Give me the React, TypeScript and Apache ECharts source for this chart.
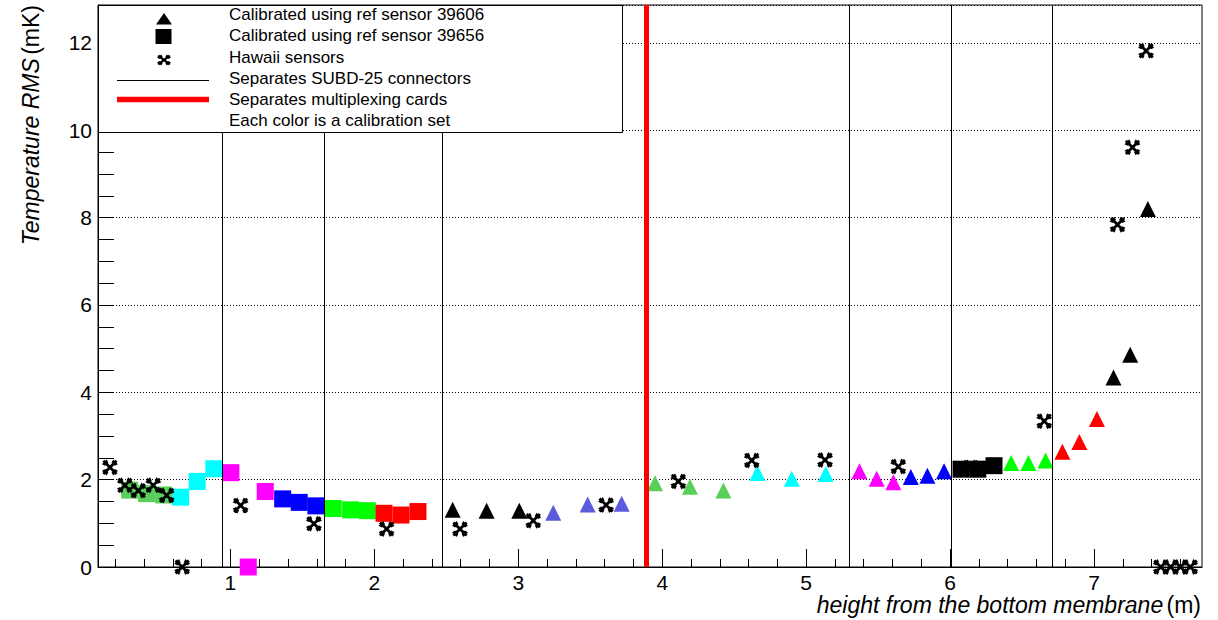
import React, { useEffect, useRef } from 'react';
import * as echarts from 'echarts';

// ---------- data (x = height in m, y = temperature RMS in mK) ----------
const hawaiiSensors: number[][] = [
  [0.163, 2.28], [0.267, 1.87], [0.36, 1.75], [0.464, 1.87], [0.557, 1.64],
  [0.665, 0.0], [1.071, 1.41], [1.58, 0.99], [2.085, 0.87], [2.595, 0.87],
  [3.104, 1.06], [3.61, 1.42], [4.112, 1.96], [4.622, 2.44], [5.131, 2.45],
  [5.64, 2.30], [6.654, 3.34], [7.163, 7.84], [7.267, 9.61], [7.362, 11.82],
  [7.464, 0.0], [7.532, 0.0], [7.60, 0.0], [7.668, 0.0],
];
const hawaiiBehindSquares: number[][] = [[6.144, 2.28]];

// squares: calibrated using ref sensor 39656
const sqGreenMid: number[][] = [[0.30, 1.76], [0.418, 1.68], [0.536, 1.65]];
const sqCyan: number[][] = [[0.654, 1.60], [0.769, 1.96], [0.885, 2.25]];
const sqMagenta: number[][] = [[1.003, 2.16], [1.124, 0.0], [1.242, 1.73]];
const sqBlue: number[][] = [[1.363, 1.56], [1.478, 1.48], [1.594, 1.40]];
const sqGreen: number[][] = [[1.714, 1.34], [1.835, 1.31], [1.951, 1.29]];
const sqRed: number[][] = [[2.067, 1.23], [2.185, 1.19], [2.303, 1.27]];
const sqBlack: number[][] = [[6.076, 2.24], [6.192, 2.24], [6.305, 2.32]];

// triangles: calibrated using ref sensor 39606
const triBlack: number[][] = [
  [2.544, 1.31], [2.78, 1.29], [3.007, 1.29], [7.135, 4.34], [7.251, 4.86], [7.374, 8.20],
];
const triViolet: number[][] = [[3.243, 1.24], [3.482, 1.43], [3.718, 1.45]];
const triGreenMid: number[][] = [[3.95, 1.92], [4.193, 1.84], [4.425, 1.75]];
const triCyan: number[][] = [[4.661, 2.15], [4.9, 2.02], [5.136, 2.13]];
const triMagenta: number[][] = [[5.37, 2.19], [5.49, 2.02], [5.606, 1.94]];
const triBlue: number[][] = [[5.727, 2.06], [5.842, 2.09], [5.958, 2.19]];
const triGreen: number[][] = [[6.424, 2.38], [6.544, 2.38], [6.663, 2.44]];
const triRed: number[][] = [[6.78, 2.64], [6.898, 2.86], [7.02, 3.39]];

// separators
const connectorSeparators = [0.943, 1.645, 2.472, 5.298, 6.007, 6.714];
const cardSeparators = [3.888];

// axes
const xMin = 0.08;
const xMax = 7.75;
const yMin = 0;
const yMax = 12.87;
const xMajorTicks = [1, 2, 3, 4, 5, 6, 7];
const xMinorTicks = [
  0.2, 0.4, 0.6, 0.8, 1.2, 1.4, 1.6, 1.8, 2.2, 2.4, 2.6, 2.8, 3.2, 3.4, 3.6, 3.8,
  4.2, 4.4, 4.6, 4.8, 5.2, 5.4, 5.6, 5.8, 6.2, 6.4, 6.6, 6.8, 7.2, 7.4, 7.6,
];
const yMinorTicks = [
  0.5, 1, 1.5, 2.5, 3, 3.5, 4.5, 5, 5.5, 6.5, 7, 7.5, 8.5, 9, 9.5, 10.5, 11, 11.5, 12.5,
];

const legendLabels = [
  'Calibrated using ref sensor 39606',
  'Calibrated using ref sensor 39656',
  'Hawaii sensors',
  'Separates SUBD-25 connectors',
  'Separates multiplexing cards',
  'Each color is a calibration set',
];

const FONT = '"Liberation Sans", Arial, Helvetica, sans-serif';
const CROSS_PATH =
  'M0.5,3 L3,0.5 L19.5,17 L17,19.5 Z M17,0.5 L19.5,3 L3,19.5 L0.5,17 Z ' +
  'M0,6 L6,0 L8,4 L4,8 Z M20,6 L16,8 L12,4 L14,0 Z ' +
  'M0,14 L4,12 L8,16 L6,20 Z M20,14 L14,20 L12,16 L16,12 Z';

let registered = false;

export default function App() {
  const ref = useRef<HTMLDivElement>(null);

  useEffect(() => {
    if (!ref.current) return;
    if (!registered) {
      echarts.graphic.registerShape('hawaii', echarts.graphic.extendPath(CROSS_PATH, {}));
      registered = true;
    }
    const chart = echarts.init(ref.current, undefined, { renderer: 'svg' });

    const scatter = (data: number[][], symbol: string, size: number, color: string, z: number) => ({
      type: 'scatter',
      data,
      symbol,
      symbolSize: size,
      itemStyle: { color, opacity: 1 },
      clip: false,
      z,
      silent: true,
    });
    const SQ = 'rect';
    const TRI = 'triangle';
    const CROSS = 'path://' + CROSS_PATH;

    const sepLine = (values: number[], color: string, width: number) => ({
      type: 'scatter',
      data: [],
      z: 1,
      silent: true,
      markLine: {
        silent: true,
        symbol: ['none', 'none'],
        label: { show: false },
        lineStyle: { color, width, type: 'solid', opacity: 1 },
        emphasis: { disabled: true },
        data: values.map((v) => ({ xAxis: v })),
      },
    });

    const rowY = [14.5, 35.5, 57, 78, 99, 120];
    const legendGraphics: any[] = [
      {
        type: 'rect',
        z: 100,
        shape: { x: 98.5, y: 5.5, width: 524, height: 127 },
        style: { fill: '#fff', stroke: '#000', lineWidth: 1 },
      },
      {
        type: 'polygon',
        z: 101,
        shape: { points: [[156, 24.5], [172, 24.5], [164, 13]] },
        style: { fill: '#000' },
      },
      {
        type: 'rect',
        z: 101,
        shape: { x: 155.5, y: 29, width: 16, height: 15 },
        style: { fill: '#000' },
      },
      {
        type: 'hawaii',
        z: 101,
        x: 157,
        y: 54.5,
        scaleX: 0.7,
        scaleY: 0.55,
        style: { fill: '#000' },
      },
      {
        type: 'line',
        z: 101,
        shape: { x1: 117, y1: 80.5, x2: 209, y2: 80.5 },
        style: { stroke: '#000', lineWidth: 1 },
      },
      {
        type: 'line',
        z: 101,
        shape: { x1: 117, y1: 99.5, x2: 209, y2: 99.5 },
        style: { stroke: '#ff0000', lineWidth: 5.5 },
      },
      ...legendLabels.map((t, i) => ({
        type: 'text',
        z: 101,
        x: 229,
        y: rowY[i],
        style: { text: t, fill: '#000', font: `17px ${FONT}`, align: 'left', verticalAlign: 'middle' },
      })),
      {
        type: 'text',
        z: 101,
        x: 1201,
        y: 605,
        style: {
          text: '{i|height from the bottom membrane} {n|(m)}',
          align: 'right',
          verticalAlign: 'middle',
          fill: '#000',
          rich: {
            i: { fontStyle: 'italic', fontSize: 23, fontFamily: FONT, fill: '#000' },
            n: { fontSize: 23, fontFamily: FONT, fill: '#000' },
          },
        },
      },
      {
        type: 'text',
        z: 101,
        x: 31,
        y: 5,
        rotation: Math.PI / 2,
        style: {
          text: '{i|Temperature RMS} {n|(mK)}',
          align: 'right',
          verticalAlign: 'middle',
          fill: '#000',
          rich: {
            i: { fontStyle: 'italic', fontSize: 23, fontFamily: FONT, fill: '#000' },
            n: { fontSize: 23, fontFamily: FONT, fill: '#000' },
          },
        },
      },
    ];

    const option: any = {
      animation: false,
      backgroundColor: '#fff',
      grid: {
        left: 98,
        right: 16,
        top: 5,
        bottom: 53,
        show: true,
        borderColor: '#000',
        borderWidth: 1,
        backgroundColor: '#fff',
        containLabel: false,
      },
      xAxis: [
        {
          type: 'value',
          min: xMin,
          max: xMax,
          position: 'bottom',
          axisLine: { show: true, onZero: false, lineStyle: { color: '#000', width: 1 } },
          axisTick: {
            show: true,
            inside: true,
            length: 18,
            customValues: xMajorTicks,
            lineStyle: { color: '#000', width: 1 },
          },
          axisLabel: {
            customValues: xMajorTicks,
            margin: 5,
            fontSize: 21,
            fontFamily: FONT,
            color: '#000',
          },
          splitLine: { show: false },
        },
        {
          type: 'value',
          min: xMin,
          max: xMax,
          position: 'bottom',
          axisLine: { show: false, onZero: false },
          axisTick: {
            show: true,
            inside: true,
            length: 8,
            customValues: xMinorTicks,
            lineStyle: { color: '#000', width: 1 },
          },
          axisLabel: { show: false },
          splitLine: { show: false },
        },
      ],
      yAxis: [
        {
          type: 'value',
          min: yMin,
          max: yMax,
          interval: 2,
          position: 'left',
          axisLine: { show: true, onZero: false, lineStyle: { color: '#000', width: 1 } },
          axisTick: { show: true, inside: true, length: 16, lineStyle: { color: '#000', width: 1 } },
          axisLabel: {
            showMaxLabel: false,
            margin: 6,
            fontSize: 21,
            fontFamily: FONT,
            color: '#000',
          },
          splitLine: { show: true, lineStyle: { color: '#000', width: 1, type: [1, 2] } },
        },
        {
          type: 'value',
          min: yMin,
          max: yMax,
          position: 'left',
          axisLine: { show: false, onZero: false },
          axisTick: {
            show: true,
            inside: true,
            length: 16,
            customValues: yMinorTicks,
            lineStyle: { color: '#000', width: 1 },
          },
          axisLabel: { show: false },
          splitLine: { show: false },
        },
      ],
      series: [
        sepLine(connectorSeparators, '#000', 1),
        sepLine(cardSeparators, '#ff0000', 5),
        scatter(hawaiiBehindSquares, CROSS, 16, '#000', 2),
        scatter(sqGreenMid, SQ, 17, '#59cf59', 3),
        scatter(sqCyan, SQ, 17, '#00ffff', 3),
        scatter(sqMagenta, SQ, 17, '#ff00ff', 3),
        scatter(sqBlue, SQ, 17, '#0000ff', 3),
        scatter(sqGreen, SQ, 17, '#00ff00', 3),
        scatter(sqRed, SQ, 17, '#ff0000', 3),
        scatter(sqBlack, SQ, 17, '#000000', 3),
        scatter(triBlack, TRI, 16, '#000000', 3),
        scatter(triViolet, TRI, 16, '#5a5adc', 3),
        scatter(triGreenMid, TRI, 16, '#59cf59', 3),
        scatter(triCyan, TRI, 16, '#00ffff', 3),
        scatter(triMagenta, TRI, 16, '#ff00ff', 3),
        scatter(triBlue, TRI, 16, '#0000ff', 3),
        scatter(triGreen, TRI, 16, '#00ff00', 3),
        scatter(triRed, TRI, 16, '#ff0000', 3),
        scatter(hawaiiSensors, CROSS, 16, '#000000', 4),
      ],
      graphic: legendGraphics,
    };

    chart.setOption(option);
    return () => {
      chart.dispose();
    };
  }, []);

  return (
    <div
      ref={ref}
      style={{ position: 'fixed', left: 0, top: 0, width: 1218, height: 620, background: '#fff' }}
    />
  );
}
